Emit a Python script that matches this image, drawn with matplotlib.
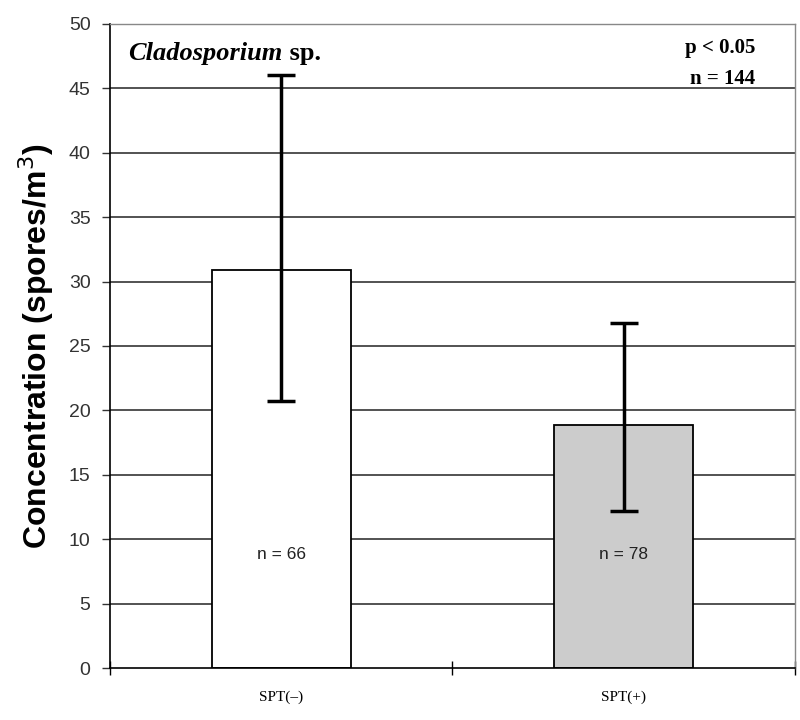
import matplotlib
matplotlib.use("Agg")
import matplotlib.pyplot as plt
import numpy as np

categories = ["SPT(\u2013)", "SPT(+)"]
means = [30.9, 18.9]
err_low = [20.7, 12.2]
err_high = [46.0, 26.8]
n_labels = ["n = 66", "n = 78"]
bar_colors = ["#FFFFFF", "#CCCCCC"]
yticks = [0, 5, 10, 15, 20, 25, 30, 35, 40, 45, 50]

fig = plt.figure(figsize=(8, 7.2), dpi=100)
ax = fig.add_axes([0.1375, 0.0722, 0.856, 0.8945])

x = np.arange(len(categories))
yerr = np.array([[m - lo for m, lo in zip(means, err_low)],
                 [hi - m for m, hi in zip(means, err_high)]])

ax.set_axisbelow(True)
for y in yticks[1:]:
    ax.axhline(y, color="#444444", lw=1.3, zorder=0)

ax.bar(x, means, width=0.405, color=bar_colors, edgecolor="black", linewidth=1.3, zorder=2)
ax.errorbar(x, means, yerr=yerr, fmt="none", ecolor="black", elinewidth=2.5,
            capsize=10, capthick=2.5, zorder=3)

serif = ["Liberation Serif", "DejaVu Serif"]
for xi, lab in zip(x, n_labels):
    ax.text(xi, 8.8, lab, ha="center", va="center", fontsize=12.5,
            family=["Liberation Sans", "DejaVu Sans"], color="#222222", zorder=4)

ax.set_xlim(-0.5, 1.5)
ax.set_ylim(0, 50)
ax.set_yticks(yticks)
ax.set_yticklabels([str(v) for v in yticks], fontsize=14,
                   family=["Liberation Sans", "DejaVu Sans"], color="#333333")
ax.tick_params(axis="y", direction="out", length=6, width=1, color="#333333", pad=8)

ax.set_xticks(x)
ax.set_xticklabels(categories, fontsize=11, family=serif)
ax.tick_params(axis="x", which="major", length=0, pad=16)
ax.set_xticks([-0.5, 0.5, 1.5], minor=True)
ax.tick_params(axis="x", which="minor", direction="inout", length=10, width=1)

for side in ["top", "right"]:
    ax.spines[side].set_color("#888888")
    ax.spines[side].set_linewidth(1)
ax.spines["left"].set_linewidth(1.2)
ax.spines["bottom"].set_linewidth(1.2)

ax.set_ylabel("Concentration (spores/m$^3$)", fontsize=23, fontweight="bold",
              family=["Liberation Sans", "DejaVu Sans"], labelpad=9)

t1 = ax.text(0.027, 0.972, "Cladosporium", transform=ax.transAxes, fontsize=19,
             fontweight="bold", style="italic", family=serif, ha="left", va="top")
ax.annotate(" sp.", xy=(1, 0), xycoords=t1, fontsize=19, fontweight="bold",
            family=serif, ha="left", va="bottom")
ax.text(0.942, 0.978, "p < 0.05\nn = 144", transform=ax.transAxes, fontsize=15,
        fontweight="bold", family=serif, ha="right", va="top", linespacing=1.75)

fig.savefig("out.png", dpi=100)
